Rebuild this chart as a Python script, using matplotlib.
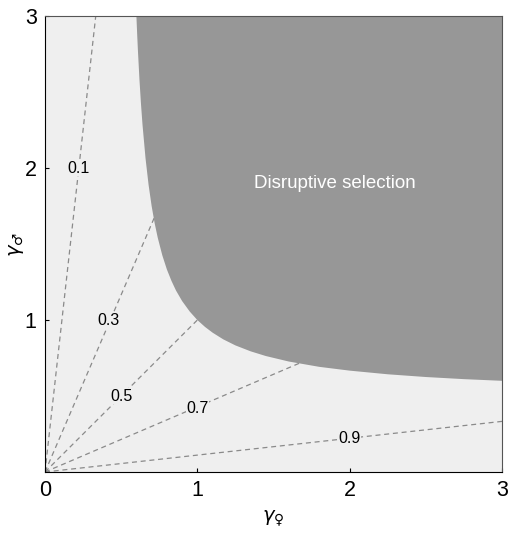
import numpy as np
import matplotlib
matplotlib.use("Agg")
import matplotlib.pyplot as plt

plt.rcParams["font.family"] = ["Liberation Sans", "DejaVu Sans"]

# boundary of disruptive-selection region
bound_x = [0.600, 0.605, 0.61, 0.62, 0.63, 0.64, 0.66, 0.68, 0.70, 0.72, 0.74, 0.77, 0.80, 0.83, 0.86,
           0.90, 0.95, 1.00, 1.05, 1.10, 1.17, 1.25, 1.35, 1.45, 1.60, 1.80, 2.00, 2.25, 2.50, 2.75, 3.00]
bound_y = [3.000, 2.881, 2.773, 2.583, 2.423, 2.286, 2.063, 1.889, 1.750, 1.636, 1.542, 1.426, 1.333, 1.258, 1.194,
           1.125, 1.056, 1.000, 0.955, 0.917, 0.873, 0.833, 0.794, 0.763, 0.727, 0.692, 0.667, 0.643, 0.625, 0.611, 0.600]

# dashed guide lines from origin to frame edge
p_labels = ["0.1", "0.3", "0.5", "0.7", "0.9"]
line_end_x = [0.333, 1.286, 3.0, 3.0, 3.0]
line_end_y = [3.0, 3.0, 3.0, 1.286, 0.333]
label_x = [0.22, 0.42, 0.50, 1.00, 2.00]
label_y = [2.00, 1.00, 0.50, 0.42, 0.22]

light = "#efefef"
dark = "#979797"

fig = plt.figure(figsize=(5.08, 5.35), dpi=100)
ax = fig.add_axes([0.0886, 0.1178, 0.8996, 0.852])
ax.set_facecolor(light)

for ex, ey in zip(line_end_x, line_end_y):
    ax.plot([0, ex], [0, ey], ls=(0, (4, 3)), color="#8a8a8a", lw=0.9, zorder=1)

ax.fill(bound_x + [3.0], bound_y + [3.0], color=dark, lw=0, zorder=2)

for lab, lx, ly in zip(p_labels, label_x, label_y):
    ax.text(lx, ly, lab, ha="center", va="center", fontsize=11.5, zorder=3,
            bbox=dict(facecolor=light, edgecolor="none", pad=0.5))

ax.text(1.90, 1.90, "Disruptive selection", color="white", fontsize=13.5,
        ha="center", va="center", zorder=3)

ax.set_xlim(0, 3)
ax.set_ylim(0, 3)
ax.set_xticks([0, 1, 2, 3])
ax.set_yticks([1, 2, 3])
ax.tick_params(direction="in", length=3, labelsize=15.5, pad=6)
ax.spines["top"].set_color("#555555")
ax.spines["right"].set_color("#555555")

ax.set_xlabel("$\\gamma_{♀}$", fontsize=14)
ax.set_ylabel("$\\gamma_{♂}$", fontsize=14)
ax.xaxis.set_label_coords(0.5, -0.08)
ax.yaxis.set_label_coords(-0.042, 0.5)

fig.savefig("out.png", dpi=100)
